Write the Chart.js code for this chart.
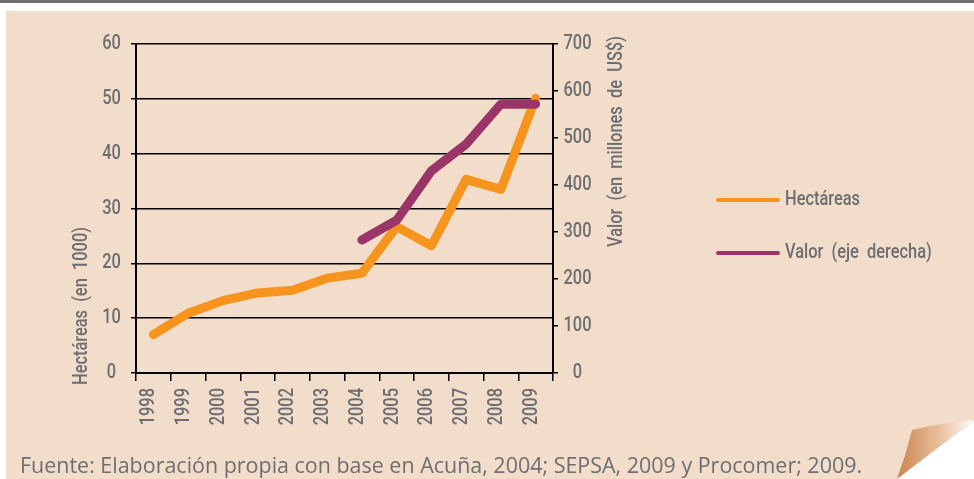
<!DOCTYPE html>
<html>
<head>
<meta charset="utf-8">
<script src="https://cdn.jsdelivr.net/npm/chart.js@4.4.1/dist/chart.umd.min.js"></script>
<style>
  body { margin: 0; width: 974px; height: 479px; background: #fff; position: relative; overflow: hidden; }
  #topbar { position: absolute; left: 0; top: 0; width: 974px; height: 3px; background: #6d6e71; }
  #panel { position: absolute; left: 6px; top: 11px; width: 968px; height: 468px; background: #f2ddcb; }
  #wrap { position: absolute; left: 0; top: 0; width: 974px; height: 479px; }
  #curl { position: absolute; left: 0; top: 0; }
  #source {
    position: absolute; left: 20px; top: 451px; white-space: nowrap;
    font-family: "Open Sans", "Liberation Sans", sans-serif; font-size: 21px; color: #6d6e71;
    transform-origin: 0 0;
  }
</style>
</head>
<body>
<div id="topbar"></div>
<div id="panel"></div>
<svg id="curl" width="974" height="479">
  <defs>
    <linearGradient id="fold" x1="0" y1="0" x2="1" y2="0">
      <stop offset="0" stop-color="#cd8450"/>
      <stop offset="0.55" stop-color="#e9bf9c"/>
      <stop offset="1" stop-color="#ffffff"/>
    </linearGradient>
  </defs>
  <polygon points="974,421 974,479 897,479" fill="#fff"/>
  <path d="M912,430 Q940,423 974,420 L897,479 Q906,455 912,430 Z" fill="url(#fold)"/>
</svg>
<div id="wrap"><canvas id="chart"></canvas></div>
<div id="source">Fuente: Elaboración propia con base en Acuña, 2004; SEPSA, 2009 y Procomer; 2009.</div>

<script>
// ---- data
const years = ["1998", "1999", "2000", "2001", "2002", "2003", "2004", "2005", "2006", "2007", "2008", "2009"];
const hectareas = [7, 10.9, 13.2, 14.6, 15.1, 17.3, 18.2, 26.7, 23.2, 35.3, 33.5, 50.1];
const valor = [null, null, null, null, null, null, 283, 325, 430, 487, 572, 572];
const seriesNames = ["Hectáreas", "Valor (eje derecha)"];
const leftTitle = "Hectáreas (en 1000)";
const rightTitle = "Valor (en millones de US$)";

const textColor = "#6d6e71";
const font = "500 20px Roboto, 'Liberation Sans', sans-serif";
const squeeze = 0.82; // no condensed face installed, so narrow the glyphs by hand

// text drawn narrower along its own direction
function narrowText(ctx, text, x, y, angle, align) {
  ctx.save();
  ctx.translate(x, y);
  ctx.rotate(angle);
  ctx.scale(squeeze, 1);
  ctx.textAlign = align;
  ctx.fillText(text, 0, 0);
  ctx.restore();
}

// tick labels, axis titles and legend drawn by hand
const extras = {
  id: "extras",
  afterDraw(chart) {
    const { ctx, scales: { x, y, y1 } } = chart;
    ctx.save();
    ctx.fillStyle = textColor;
    ctx.font = font;
    ctx.textBaseline = "middle";

    y.ticks.forEach(t => narrowText(ctx, t.label, 111.5, y.getPixelForValue(t.value), 0, "center"));
    y1.ticks.forEach(t => narrowText(ctx, t.label, 577.5, y1.getPixelForValue(t.value), 0, "center"));
    x.ticks.forEach((t, i) => narrowText(ctx, years[i], x.getPixelForTick(i) - 4, x.top + 15, -Math.PI / 2, "right"));

    ctx.wordSpacing = "5px";
    narrowText(ctx, leftTitle, 82, y.bottom + 12, -Math.PI / 2, "left");
    narrowText(ctx, rightTitle, 617, 247, -Math.PI / 2, "left");

    // legend
    [0, 1].forEach(i => {
      const ds = chart.data.datasets[i];
      const ly = 200 + i * 53;
      ctx.strokeStyle = ds.borderColor;
      ctx.lineWidth = 4;
      ctx.lineCap = "round";
      ctx.beginPath();
      ctx.moveTo(718, ly);
      ctx.lineTo(778, ly);
      ctx.stroke();
      narrowText(ctx, ds.label, 785, ly, 0, "left");
    });
    ctx.restore();
  }
};

new Chart(document.getElementById("chart"), {
  type: "line",
  plugins: [extras],
  data: {
    labels: years,
    datasets: [
      {
        label: seriesNames[0], data: hectareas, yAxisID: "y",
        borderColor: "#f7941e", borderWidth: 9, order: 1,
      },
      {
        label: seriesNames[1], data: valor, yAxisID: "y1",
        borderColor: "#9b3467", borderWidth: 9, order: 0,
      },
    ],
  },
  options: {
    responsive: true,
    maintainAspectRatio: false,
    animation: false,
    layout: { padding: { top: 44, left: 0, right: 0, bottom: 0 } },
    elements: {
      point: { radius: 0 },
      line: { tension: 0, borderCapStyle: "round", borderJoinStyle: "round", fill: false },
    },
    plugins: { legend: { display: false }, tooltip: { enabled: false } },
    scales: {
      x: {
        offset: true,
        grid: { drawOnChartArea: false, drawTicks: true, tickLength: 8, color: "#000", lineWidth: 1.5, offset: true },
        border: { color: "#000", width: 2 },
        ticks: { display: false },
        afterFit: s => { s.height = 106; },
      },
      y: {
        position: "left",
        min: 0, max: 60,
        ticks: { stepSize: 10, display: false },
        grid: { color: "#000", lineWidth: 1.5, tickLength: 5 },
        border: { color: "#000", width: 2 },
        afterFit: s => { s.width = 136; },
      },
      y1: {
        position: "right",
        min: 0, max: 700,
        ticks: { stepSize: 100, display: false },
        grid: { drawOnChartArea: false, color: "#000", lineWidth: 1.5, tickLength: 5 },
        border: { color: "#000", width: 2 },
        afterFit: s => { s.width = 421; },
      },
    },
  },
});

// fit the source line to the width it has in the original
const src = document.getElementById("source");
src.style.transform = `scaleX(${842 / src.offsetWidth})`;
</script>
</body>
</html>
